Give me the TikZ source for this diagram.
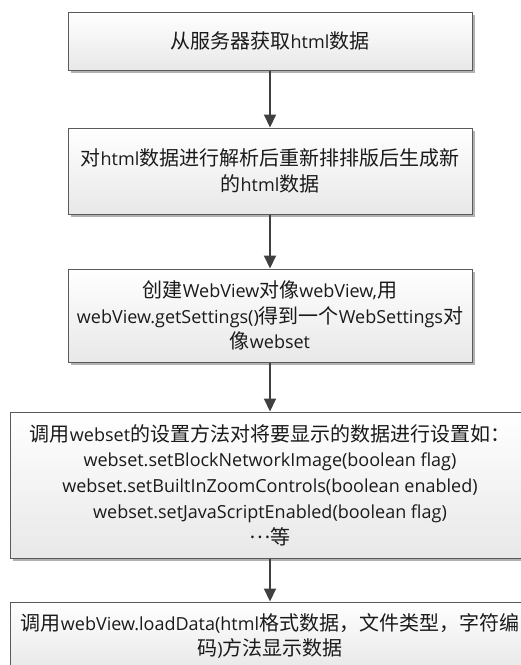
\documentclass[tikz,border=0pt]{standalone}
\usepackage{fontspec}
\setmainfont{Open Sans}
\newfontfamily\zhfont[Scale=1.111]{Noto Sans CJK SC}
\usetikzlibrary{arrows.meta,shadows}
\newcommand\zh[1]{{\zhfont #1}}
\definecolor{boxline}{HTML}{5A5A5A}
\definecolor{arrowcol}{HTML}{404040}
\definecolor{txt}{HTML}{1A1A1A}
\begin{document}
\begin{tikzpicture}[x=1pt,y=1pt,
  box/.style={draw=boxline, line width=1pt, top color=white, bottom color=black!9,
    drop shadow={shadow xshift=2.5pt, shadow yshift=-2.5pt, fill=black!30, opacity=1},
    align=center, inner sep=0pt, text=txt,
    font=\fontsize{18}{25.7}\selectfont},
  flow/.style={draw=arrowcol, line width=2pt, -{Triangle[width=12pt,length=13pt]}}]
\useasboundingbox (0,0) rectangle (521,-665);
\node[box, minimum width=404pt, minimum height=58pt] (b1) at (270,-41)
  {\zh{从服务器获取}html\zh{数据}};
\node[box, minimum width=404pt, minimum height=86pt] (b2) at (270,-171)
  {\zh{对}html\zh{数据进行解析后重新排排版后生成新}\\\zh{的}html\zh{数据}};
\node[box, minimum width=404pt, minimum height=93pt] (b3) at (270,-315.5)
  {\zh{创建}WebView\zh{对像}webView,\zh{用}\\webView.getSettings()\zh{得到一个}WebSettings\zh{对}\\\zh{像}webset};
\node[box, minimum width=520pt, minimum height=146pt] (b4) at (270,-485)
  {\zh{调用}webset\zh{的设置方法对将要显示的数据进行设置如：}\\
   webset.setBlockNetworkImage(boolean flag)\\
   webset.setBuiltInZoomControls(boolean enabled)\\
   webset.setJavaScriptEnabled(boolean flag)\\
   \smash{\raisebox{5.5pt}{\zh{…}}}\zh{等}};
\node[box, minimum width=520pt, minimum height=68pt] (b5) at (270,-636)
  {\zh{调用}webView.loadData(html\zh{格式数据，文件类型，字符编}\\\zh{码}){\zh{方法显示数据}}};
\draw[flow] (b1.south) -- (b2.north);
\draw[flow] (b2.south) -- (b3.north);
\draw[flow] (b3.south) -- (b4.north);
\draw[flow] (b4.south) -- (b5.north);
\end{tikzpicture}
\end{document}
